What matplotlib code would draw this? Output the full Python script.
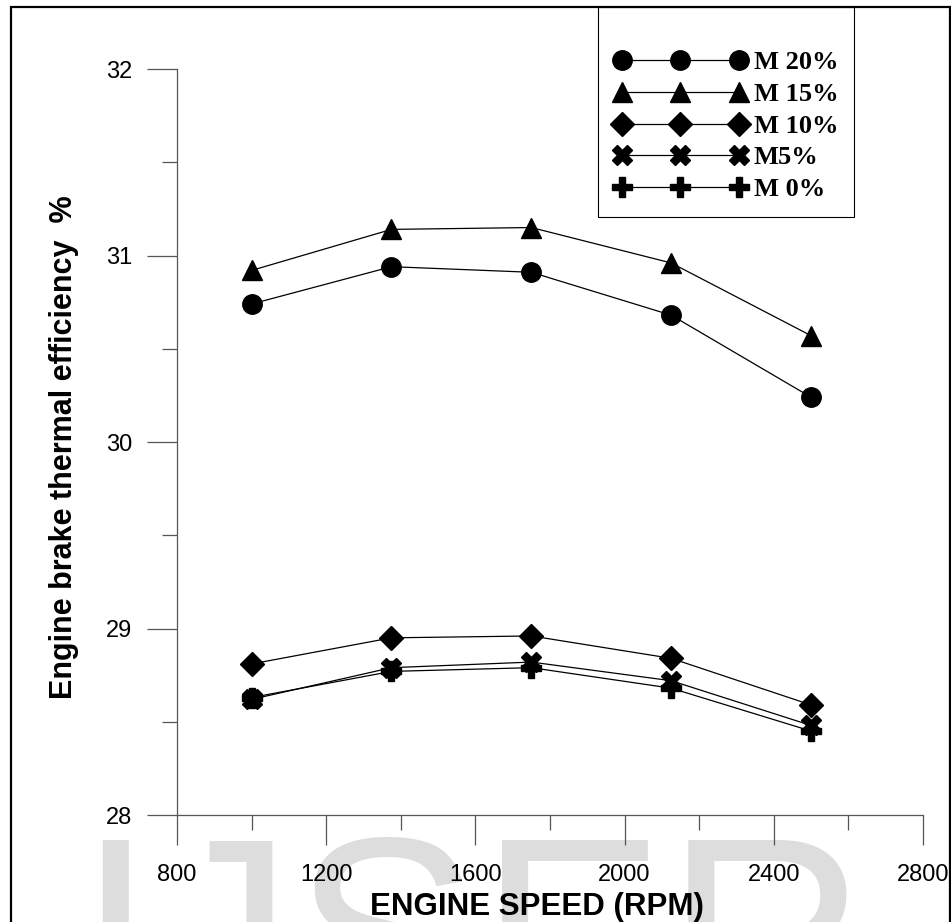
import matplotlib
matplotlib.use("Agg")
import matplotlib.pyplot as plt
from matplotlib.patches import Rectangle
from matplotlib.ticker import MultipleLocator

# engine speed (rpm) and brake thermal efficiency (%) for each blend
speed = [1000, 1375, 1750, 2125, 2500]
m20 = [30.74, 30.94, 30.91, 30.68, 30.24]
m15 = [30.92, 31.14, 31.15, 30.96, 30.57]
m10 = [28.81, 28.95, 28.96, 28.84, 28.59]
m5 = [28.62, 28.79, 28.82, 28.72, 28.48]
m0 = [28.63, 28.77, 28.79, 28.68, 28.45]

labels = ["M 20%", "M 15%", "M 10%", "M5%", "M 0%"]
x_ticks = [800, 1200, 1600, 2000, 2400, 2800]
y_ticks = [28, 29, 30, 31, 32]

W, H = 951, 922
fig = plt.figure(figsize=(W / 100, H / 100), dpi=100)
ax = fig.add_axes([177 / W, (H - 815) / H, 746 / W, 746 / H])

# watermark left on the source page
fig.text(76 / W, (H - 1032) / H, "IJSER", fontsize=201, color="#dddddd",
         family="Liberation Sans", ha="left", va="baseline", zorder=-1)

# outer frame
fig.patches.append(Rectangle((11 / W, -0.1), 939 / W, 1.1 - 7 / H,
                             transform=fig.transFigure, fill=False,
                             edgecolor="black", linewidth=1.6))

kw = dict(color="black", linewidth=0.9, markerfacecolor="black",
          markeredgecolor="black")
ax.plot(speed, m20, marker="o", markersize=14, label=labels[0], **kw)
ax.plot(speed, m15, marker="^", markersize=14, label=labels[1], **kw)
ax.plot(speed, m10, marker="D", markersize=12, label=labels[2], **kw)
ax.plot(speed, m5, marker="X", markersize=14, label=labels[3], **kw)
ax.plot(speed, m0, marker="P", markersize=14, label=labels[4], **kw)

ax.set_xlim(800, 2800)
ax.set_ylim(28, 32)
ax.set_xticks(x_ticks)
ax.set_yticks(y_ticks)
ax.xaxis.set_minor_locator(MultipleLocator(200))
ax.yaxis.set_minor_locator(MultipleLocator(0.5))

for s in ["top", "right"]:
    ax.spines[s].set_visible(False)
for s in ["left", "bottom"]:
    ax.spines[s].set_color("#555555")
    ax.spines[s].set_linewidth(0.9)

ax.tick_params(which="major", length=21.6, width=0.9, color="#555555")
ax.tick_params(which="minor", length=10.8, width=0.9, color="#555555")
ax.tick_params(axis="y", which="major", pad=10.5)
ax.tick_params(axis="x", which="major", pad=14)
for t in ax.get_xticklabels() + ax.get_yticklabels():
    t.set_family("Liberation Sans")
    t.set_fontsize(17)

fig.text(537 / W, (H - 915) / H, "ENGINE SPEED (RPM)", fontsize=22.5,
         fontweight="bold", family="Liberation Sans", ha="center",
         va="baseline")
fig.text(64 / W, (H - 447) / H, "Engine brake thermal efficiency  %",
         fontsize=22, fontweight="bold", family="Liberation Sans",
         rotation=90, ha="center", va="center")

leg = ax.legend(loc="upper left", bbox_to_anchor=(598 / W, 1 - 7 / H),
                bbox_transform=fig.transFigure, numpoints=3,
                prop={"family": "Liberation Serif", "weight": "bold", "size": 19},
                frameon=True, fancybox=False, framealpha=1, edgecolor="black",
                borderpad=0.6, borderaxespad=0, handlelength=5.05,
                handletextpad=0.25, labelspacing=0.31,
                title=" ", title_fontsize=15)
leg.get_frame().set_linewidth(0.8)

plt.savefig("out.png", dpi=100)
